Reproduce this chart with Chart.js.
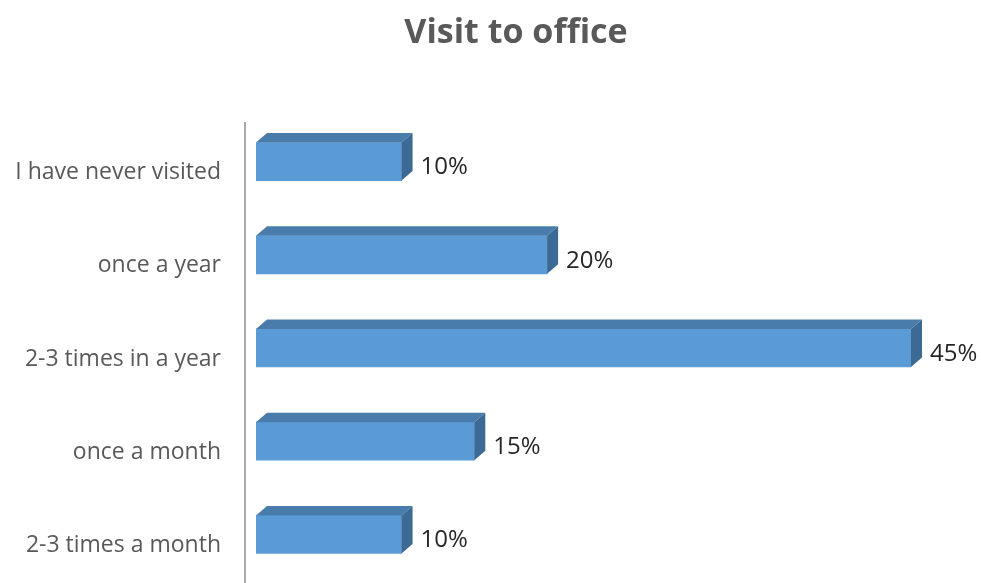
<!DOCTYPE html>
<html>
<head>
<meta charset="utf-8">
<script src="https://cdn.jsdelivr.net/npm/chart.js@4"></script>
<style>
    html, body { margin: 0; padding: 0; background: #fff; }
    canvas { display: block; }
</style>
</head>
<body>
<canvas id="chart" width="981" height="583"></canvas>
<script>
// Survey answers, top to bottom
const categories = [
    'I have never visited',
    'once a year',
    '2-3 times in a year',
    'once a month',
    '2-3 times a month'
];
const shares = [10, 20, 45, 15, 10];

const FRONT = '#5b9bd5';
const TOP = '#4a7cab';
const SIDE = '#3d6a94';
const DEPTH_X = 11;
const DEPTH_Y = 9.5;

// Gives the flat bars a top and right face, plus a value label
const bars3d = {
    id: 'bars3d',
    afterDatasetsDraw(chart) {
        const ctx = chart.ctx;
        const meta = chart.getDatasetMeta(0);
        ctx.save();
        meta.data.forEach((bar, i) => {
            const p = bar.getProps(['x', 'y', 'base', 'height'], true);
            const left = p.base, right = p.x;
            const top = p.y - p.height / 2, bottom = p.y + p.height / 2;

            ctx.fillStyle = TOP;
            ctx.beginPath();
            ctx.moveTo(left, top);
            ctx.lineTo(left + DEPTH_X, top - DEPTH_Y);
            ctx.lineTo(right + DEPTH_X, top - DEPTH_Y);
            ctx.lineTo(right, top);
            ctx.closePath();
            ctx.fill();

            ctx.fillStyle = SIDE;
            ctx.beginPath();
            ctx.moveTo(right, top);
            ctx.lineTo(right + DEPTH_X, top - DEPTH_Y);
            ctx.lineTo(right + DEPTH_X, bottom - DEPTH_Y);
            ctx.lineTo(right, bottom);
            ctx.closePath();
            ctx.fill();

            ctx.fillStyle = '#262626';
            ctx.font = '24px "Open Sans"';
            ctx.textAlign = 'left';
            ctx.textBaseline = 'middle';
            ctx.fillText(shares[i] + '%', right + DEPTH_X + 8, p.y + 6);
        });

        // vertical axis line, set back from the bar floor
        const area = chart.chartArea;
        ctx.strokeStyle = '#8c8c8c';
        ctx.lineWidth = 1.5;
        ctx.beginPath();
        ctx.moveTo(area.left - 11, 122);
        ctx.lineTo(area.left - 11, chart.height);
        ctx.stroke();

        // title sits a little right of the canvas centre
        ctx.fillStyle = '#595959';
        ctx.font = 'bold 34px "Open Sans"';
        ctx.textAlign = 'center';
        ctx.textBaseline = 'middle';
        ctx.fillText('Visit to office', 516, 33);
        ctx.restore();
    }
};

new Chart(document.getElementById('chart'), {
    type: 'bar',
    data: {
        labels: categories,
        datasets: [{
            data: shares,
            backgroundColor: FRONT,
            borderWidth: 0,
            barThickness: 38
        }]
    },
    options: {
        indexAxis: 'y',
        responsive: false,
        animation: false,
        layout: {
            padding: { left: 0, right: 70, top: 115, bottom: 2 }
        },
        plugins: {
            legend: { display: false },
            tooltip: { enabled: false },
            title: { display: false }
        },
        scales: {
            x: {
                display: false,
                min: 0,
                max: 45
            },
            y: {
                // tick marks stay hidden; their length only pushes the labels left
                grid: { display: false, drawTicks: true, tickLength: 35 },
                border: { display: false },
                ticks: {
                    color: '#595959',
                    font: { family: 'Open Sans', size: 23 },
                    padding: 0,
                    labelOffset: 11
                },
                afterFit(scale) {
                    scale.width = 256;
                    // labels fit inside the bands, no extra room needed above/below
                    scale.paddingTop = 0;
                    scale.paddingBottom = 0;
                }
            }
        }
    },
    plugins: [bars3d]
});
</script>
</body>
</html>
